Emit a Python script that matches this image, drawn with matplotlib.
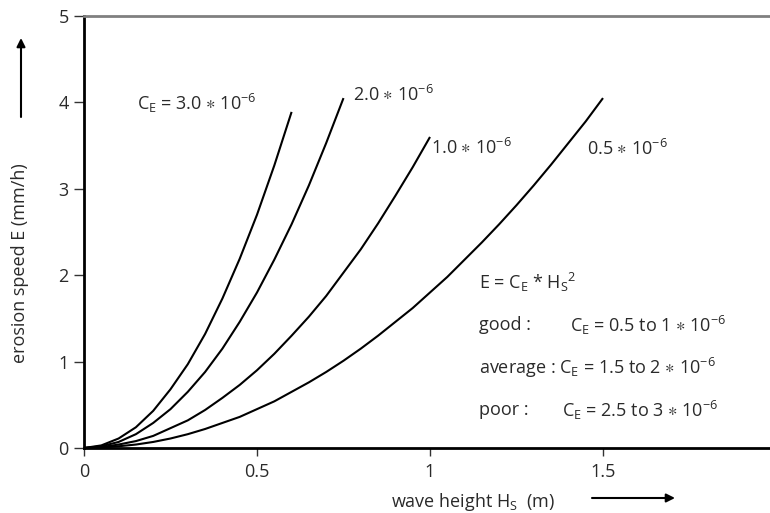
import matplotlib
matplotlib.use('Agg')
import matplotlib.pyplot as plt
from matplotlib.patches import FancyArrowPatch

plt.rcParams['font.family'] = ['Open Sans', 'DejaVu Sans']
plt.rcParams['mathtext.default'] = 'regular'

# curve values (wave height m, erosion speed mm/h)
h_30 = [0, 0.05, 0.1, 0.15, 0.2, 0.25, 0.3, 0.35, 0.4, 0.45, 0.5, 0.55, 0.6]
e_30 = [0, 0.03, 0.11, 0.24, 0.43, 0.68, 0.97, 1.32, 1.73, 2.19, 2.70, 3.27, 3.89]

h_20 = [0, 0.05, 0.1, 0.15, 0.2, 0.25, 0.3, 0.35, 0.4, 0.45, 0.5, 0.55, 0.6,
        0.65, 0.7, 0.75]
e_20 = [0, 0.02, 0.07, 0.16, 0.29, 0.45, 0.65, 0.88, 1.15, 1.46, 1.80, 2.18,
        2.59, 3.04, 3.53, 4.05]

h_10 = [0, 0.05, 0.1, 0.15, 0.2, 0.25, 0.3, 0.35, 0.4, 0.45, 0.5, 0.55, 0.6,
        0.65, 0.7, 0.75, 0.8, 0.85, 0.9, 0.95, 1.0]
e_10 = [0, 0.01, 0.04, 0.08, 0.14, 0.23, 0.32, 0.44, 0.58, 0.73, 0.90, 1.09,
        1.30, 1.52, 1.76, 2.03, 2.30, 2.60, 2.92, 3.25, 3.60]

h_05 = [0, 0.05, 0.1, 0.15, 0.2, 0.25, 0.3, 0.35, 0.4, 0.45, 0.5, 0.55, 0.6,
        0.65, 0.7, 0.75, 0.8, 0.85, 0.9, 0.95, 1.0, 1.05, 1.1, 1.15, 1.2,
        1.25, 1.3, 1.35, 1.4, 1.45, 1.5]
e_05 = [0, 0.005, 0.02, 0.04, 0.07, 0.11, 0.16, 0.22, 0.29, 0.36, 0.45, 0.54,
        0.65, 0.76, 0.88, 1.01, 1.15, 1.30, 1.46, 1.62, 1.80, 1.98, 2.18,
        2.38, 2.59, 2.81, 3.04, 3.28, 3.53, 3.78, 4.05]

x_ticks = [0, 0.5, 1, 1.5, 2]
x_labels = ['0', '0.5', '1', '1.5', '2']
y_ticks = [0, 1, 2, 3, 4, 5]

star = r'$\ast$'
curve_labels = ['C$_E$ = 3.0 ' + star + ' 10$^{-6}$', '2.0 ' + star + ' 10$^{-6}$',
                '1.0 ' + star + ' 10$^{-6}$', '0.5 ' + star + ' 10$^{-6}$']
label_pos = [(0.153, 3.99), (0.777, 4.09), (1.003, 3.47), (1.454, 3.46)]

txt = '#2a2a2a'
fs = 13

fig = plt.figure(figsize=(7.7, 5.13), dpi=100)
ax = fig.add_axes([84 / 770, 65 / 513, 692 / 770, 432 / 513])

for h, e in [(h_30, e_30), (h_20, e_20), (h_10, e_10), (h_05, e_05)]:
    ax.plot(h, e, color='black', linewidth=1.5, solid_capstyle='butt')

for lab, (lx, ly) in zip(curve_labels, label_pos):
    ax.text(lx, ly, lab, fontsize=fs, color=txt, ha='left', va='center')

# formula block
bx = (479 - 84) / 346
ax.text(bx, (448 - 282) / 86.4, 'E = C$_E$ * H$_S$$^2$', fontsize=fs, color=txt, va='center')
ax.text(bx, (448 - 325) / 86.4, 'good :', fontsize=fs, color=txt, va='center')
ax.text((570 - 84) / 346, (448 - 325) / 86.4, 'C$_E$ = 0.5 to 1 ' + star + ' 10$^{-6}$',
        fontsize=fs, color=txt, va='center')
ax.text(bx, (448 - 368) / 86.4, 'average : C$_E$ = 1.5 to 2 ' + star + ' 10$^{-6}$',
        fontsize=fs, color=txt, va='center')
ax.text(bx, (448 - 410) / 86.4, 'poor :', fontsize=fs, color=txt, va='center')
ax.text((562 - 84) / 346, (448 - 410) / 86.4, 'C$_E$ = 2.5 to 3 ' + star + ' 10$^{-6}$',
        fontsize=fs, color=txt, va='center')

ax.set_xlim(0, 2)
ax.set_ylim(0, 5)
ax.set_xticks(x_ticks)
ax.set_xticklabels(x_labels)
ax.set_yticks(y_ticks)
ax.tick_params(axis='both', labelsize=fs, labelcolor=txt, colors='#333333',
               width=1, direction='out')
ax.tick_params(axis='x', length=6, pad=5)
ax.tick_params(axis='y', length=7, pad=4)

ax.spines['right'].set_visible(False)
ax.spines['left'].set_linewidth(2)
ax.spines['bottom'].set_linewidth(2)
ax.spines['top'].set_linewidth(2)
ax.spines['top'].set_color('#808080')

# axis titles with arrows, placed in figure pixels
fig.text(20 / 770, 1 - 263 / 513, 'erosion speed E (mm/h)', rotation=90,
         fontsize=fs, color=txt, ha='center', va='center')
fig.text(473 / 770, 1 - 502 / 513, 'wave height H$_S$  (m)', fontsize=fs,
         color=txt, ha='center', va='center')

arr_y = FancyArrowPatch((21 / 770, 1 - 117 / 513), (21 / 770, 1 - 38 / 513),
                        transform=fig.transFigure, arrowstyle='-|>,head_length=5,head_width=2.5',
                        color='black', linewidth=1.5, shrinkA=0, shrinkB=0)
arr_x = FancyArrowPatch((592 / 770, 1 - 498 / 513), (675 / 770, 1 - 498 / 513),
                        transform=fig.transFigure, arrowstyle='-|>,head_length=5,head_width=2.5',
                        color='black', linewidth=1.5, shrinkA=0, shrinkB=0)
fig.add_artist(arr_y)
fig.add_artist(arr_x)

fig.savefig('out.png', dpi=100)
